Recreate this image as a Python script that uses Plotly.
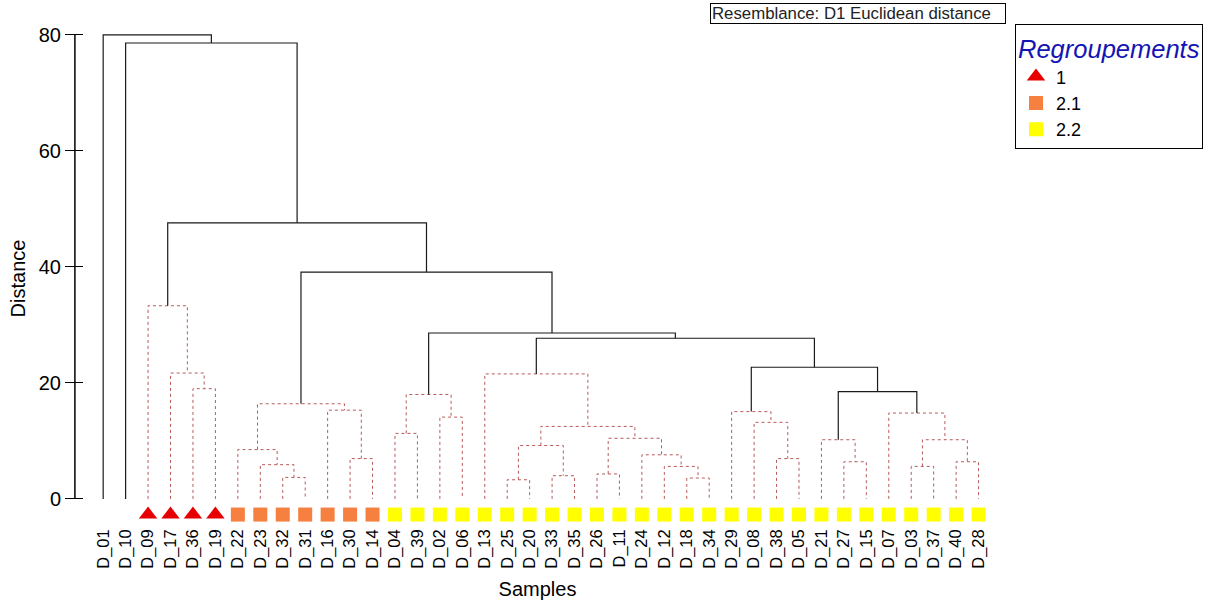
import plotly.graph_objects as go

# ---------------- data ----------------
samples = ["D_01", "D_10", "D_09", "D_17", "D_36", "D_19", "D_22", "D_23", "D_32", "D_31",
           "D_16", "D_30", "D_14", "D_04", "D_39", "D_02", "D_06", "D_13", "D_25", "D_20",
           "D_33", "D_35", "D_26", "D_11", "D_24", "D_12", "D_18", "D_34", "D_29", "D_08",
           "D_38", "D_05", "D_21", "D_27", "D_15", "D_07", "D_03", "D_37", "D_40", "D_28"]

groups = ["", "", "1", "1", "1", "1", "2.1", "2.1", "2.1", "2.1",
          "2.1", "2.1", "2.1", "2.2", "2.2", "2.2", "2.2", "2.2", "2.2", "2.2",
          "2.2", "2.2", "2.2", "2.2", "2.2", "2.2", "2.2", "2.2", "2.2", "2.2",
          "2.2", "2.2", "2.2", "2.2", "2.2", "2.2", "2.2", "2.2", "2.2", "2.2"]

# merges: new cluster name, left child, right child, distance, significant (SIMPROF)
merge_names = ["c1", "c2", "c3", "c4", "c5", "c6", "c7", "c8", "c9", "c10",
               "c11", "c12", "c13", "c14", "c15", "c16", "c17", "c18", "c19", "c20",
               "c21", "c22", "c23", "c24", "c25", "c26", "c27", "c28", "c29", "c30",
               "c31", "c32", "c33", "c34", "c35", "c36", "c37", "c38", "c39"]
merge_left = ["D_36", "D_17", "D_09", "D_32", "D_23", "D_22", "D_30", "D_16", "c6", "D_04",
              "D_02", "c10", "D_25", "D_33", "c13", "D_26", "D_18", "D_12", "D_24", "c16",
              "c15", "D_13", "D_38", "D_08", "D_29", "D_27", "D_21", "D_03", "D_40", "c28",
              "D_07", "c27", "c25", "c22", "c12", "c9", "c3", "D_10", "D_01"]
merge_right = ["D_19", "c1", "c2", "D_31", "c4", "c5", "D_14", "c7", "c8", "D_39",
               "D_06", "c11", "D_20", "D_35", "c14", "D_11", "D_34", "c17", "c18", "c19",
               "c20", "c21", "D_05", "c23", "c24", "D_15", "c26", "D_37", "D_28", "c29",
               "c30", "c31", "c32", "c33", "c34", "c35", "c36", "c37", "c38"]
merge_height = [19.0, 21.7, 33.3, 3.7, 5.9, 8.5, 6.95, 15.3, 16.4, 11.3,
                14.1, 18.0, 3.3, 4.0, 9.2, 4.3, 3.6, 5.6, 7.6, 10.45,
                12.5, 21.55, 6.95, 13.2, 15.05, 6.4, 10.2, 5.6, 6.4, 10.2,
                14.8, 18.5, 22.7, 27.7, 28.6, 39.1, 47.6, 78.6, 80.0]
merge_significant = [False] * 31 + [True] * 8

group_names = ["1", "2.1", "2.2"]
y_ticks = [0, 20, 40, 60, 80]

# ---------------- styles ----------------
FONT = "Liberation Sans, Arial, sans-serif"
group_symbol = {"1": "triangle-up", "2.1": "square", "2.2": "square"}
group_color = {"1": "#E60000", "2.1": "#F5803F", "2.2": "#FFFF00"}
group_size = {"1": 16, "2.1": 14, "2.2": 14}
MARKER_Y = -2.7
X_LO, X_HI = -1.3, 40.0   # x range: left edge of the plot is where the distance axis sits
Y_LO, Y_HI = -4.5, 80.5   # y range: room for the group markers under the leaves
PLOT_W = 927              # plot width in px (for the crossing ticks)

# ---------------- build dendrogram geometry ----------------
pos = {s: (i, 0.0) for i, s in enumerate(samples)}
sig_x, sig_y, ns_x, ns_y = [], [], [], []
for name, a, b, h, sig in zip(merge_names, merge_left, merge_right, merge_height, merge_significant):
    xa, ya = pos[a]
    xb, yb = pos[b]
    xs, ys = (sig_x, sig_y) if sig else (ns_x, ns_y)
    xs += [xa, xa, xb, xb, None]
    ys += [ya, h, h, yb, None]
    pos[name] = ((xa + xb) / 2.0, h)

fig = go.Figure()

# distance axis line, spanning only 0..80 (just inside the plot edge)
fig.add_trace(go.Scatter(x=[X_LO + 0.04, X_LO + 0.04], y=[y_ticks[0], y_ticks[-1]],
                         mode="lines", showlegend=False, hoverinfo="skip",
                         line=dict(color="black", width=1.5)))

fig.add_trace(go.Scatter(x=ns_x, y=ns_y, mode="lines", showlegend=False, hoverinfo="skip",
                         line=dict(color="#B85A5A", width=1, dash="dot")))
fig.add_trace(go.Scatter(x=sig_x, y=sig_y, mode="lines", showlegend=False, hoverinfo="skip",
                         line=dict(color="#1a1a1a", width=1.2)))

for g in group_names:
    xs = [i for i, gg in enumerate(groups) if gg == g]
    fig.add_trace(go.Scatter(
        x=xs, y=[MARKER_Y] * len(xs), mode="markers", name=g,
        marker=dict(symbol=group_symbol[g], color=group_color[g], size=group_size[g],
                    line=dict(width=0)),
        cliponaxis=False))

fig.add_annotation(text="Resemblance: D1 Euclidean distance", xref="paper", yref="paper",
                   x=0.8457, y=1.0375, xanchor="center", yanchor="middle", showarrow=False,
                   font=dict(family=FONT, size=16.8, color="#222"),
                   bordercolor="black", borderwidth=1, borderpad=1,
                   width=292, height=17, align="left", bgcolor="white")

fig.update_layout(
    width=1215, height=603,
    margin=dict(l=74, r=214, t=32, b=78),
    paper_bgcolor="white", plot_bgcolor="white",
    font=dict(family=FONT, color="black"),
    xaxis=dict(range=[X_LO, X_HI], tickmode="array", tickvals=list(range(len(samples))),
               ticktext=samples, tickangle=-90, tickfont=dict(size=16.5, family=FONT),
               showgrid=False, zeroline=False, showline=False, ticks="", automargin=False,
               title=dict(text="Samples", font=dict(size=20, family=FONT), standoff=14)),
    # axis placed 9 px inside so its 18 px outside ticks cross the axis line
    yaxis=dict(range=[Y_LO, Y_HI], tickmode="array", tickvals=y_ticks,
               anchor="free", position=9 / PLOT_W, side="left",
               ticks="outside", ticklen=18, tickcolor="black", tickwidth=1.2,
               tickfont=dict(size=20, family=FONT), showgrid=False, zeroline=False,
               showline=False, automargin=False,
               title=dict(text="Distance", font=dict(size=20, family=FONT), standoff=6)),
    legend=dict(x=1.0151, y=0.889, xanchor="left", yanchor="middle",
                bordercolor="black", borderwidth=1, bgcolor="white",
                font=dict(size=18, family=FONT, color="black"),
                title=dict(text="<i>Regroupements</i>",
                           font=dict(size=25.5, family=FONT, color="#1414B4")),
                tracegroupgap=0, itemwidth=30),
    showlegend=True,
)

fig.write_html("out.html", config={"displayModeBar": False},
               post_script="document.body.style.margin='0px';")
